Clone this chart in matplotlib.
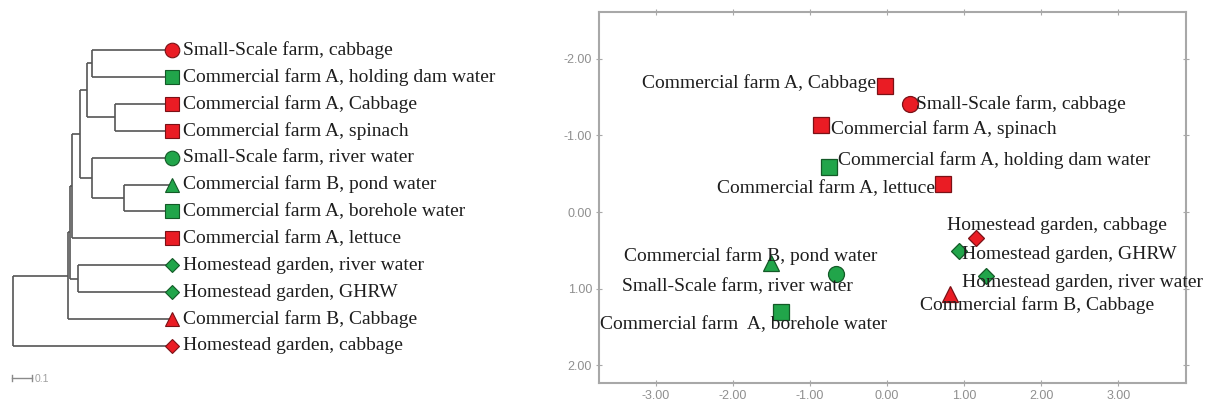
import matplotlib
matplotlib.use("Agg")
import matplotlib.pyplot as plt

plt.rcParams["axes.unicode_minus"] = False

# ---- dendrogram data (leaves listed top to bottom) ----
leaf_labels = [
    "Small-Scale farm, cabbage",
    "Commercial farm A, holding dam water",
    "Commercial farm A, Cabbage",
    "Commercial farm A, spinach",
    "Small-Scale farm, river water",
    "Commercial farm B, pond water",
    "Commercial farm A, borehole water",
    "Commercial farm A, lettuce",
    "Homestead garden, river water",
    "Homestead garden, GHRW",
    "Commercial farm B, Cabbage",
    "Homestead garden, cabbage",
]
leaf_groups = ["red", "green", "red", "red", "green", "green",
               "green", "red", "green", "green", "red", "red"]
leaf_shapes = ["o", "s", "s", "s", "o", "^", "s", "s", "D", "D", "^", "D"]

# merges: ids 0-11 are leaves, each merge creates node 12, 13, ...
merge_a = [0, 2, 12, 5, 4, 14, 17, 8, 18, 20, 21]
merge_b = [1, 3, 13, 6, 15, 16, 7, 9, 19, 10, 11]
merge_h = [0.40, 0.285, 0.425, 0.24, 0.40, 0.46, 0.50, 0.47, 0.51, 0.52, 0.795]

# ---- MDS configuration ----
pt_labels = [
    "Commercial farm A, Cabbage",
    "Small-Scale farm, cabbage",
    "Commercial farm A, spinach",
    "Commercial farm A, holding dam water",
    "Commercial farm A, lettuce",
    "Homestead garden, cabbage",
    "Homestead garden, GHRW",
    "Homestead garden, river water",
    "Commercial farm B, Cabbage",
    "Commercial farm B, pond water",
    "Small-Scale farm, river water",
    "Commercial farm  A, borehole water",
]
dim1 = [-0.03, 0.30, -0.86, -0.75, 0.73, 1.16, 0.93, 1.28, 0.82, -1.51, -0.66, -1.38]
dim2 = [-1.65, -1.41, -1.13, -0.59, -0.37, 0.34, 0.51, 0.83, 1.07, 0.66, 0.81, 1.30]
pt_groups = ["red", "red", "red", "green", "red", "red",
             "green", "green", "red", "green", "green", "green"]
pt_shapes = ["s", "o", "s", "s", "s", "D", "D", "D", "^", "^", "o", "s"]

x_ticks = [-3, -2, -1, 0, 1, 2, 3]
y_ticks = [-2, -1, 0, 1, 2]

FILL = {"red": "#ea1c24", "green": "#21a54a"}
EDGE = {"red": "#7a1116", "green": "#135a27"}
SERIF = "Liberation Serif"
SANS = "Liberation Sans"
LINE = "#555555"
TEXT = "#1e1e1e"

fig = plt.figure(figsize=(12.06, 4.03), dpi=100)

# ---------------- dendrogram ----------------
axd = fig.add_axes([0, 0, 0.5, 1])
axd.set_xlim(0.86, -2.155)
axd.set_ylim(13.12, -1.86)
axd.axis("off")

ypos = {i: float(i) for i in range(len(leaf_labels))}
hpos = {i: 0.0 for i in range(len(leaf_labels))}
for k, (a, b, h) in enumerate(zip(merge_a, merge_b, merge_h)):
    node = len(leaf_labels) + k
    ya, yb = ypos[a], ypos[b]
    axd.plot([h, h], [ya, yb], color=LINE, lw=1.2, solid_capstyle="butt")
    axd.plot([hpos[a], h], [ya, ya], color=LINE, lw=1.2, solid_capstyle="butt")
    axd.plot([hpos[b], h], [yb, yb], color=LINE, lw=1.2, solid_capstyle="butt")
    ypos[node] = (ya + yb) / 2
    hpos[node] = h

for i, (lab, g, m) in enumerate(zip(leaf_labels, leaf_groups, leaf_shapes)):
    size = {"o": 10.5, "s": 10, "^": 10, "D": 7.5}[m]
    axd.plot(0, i, marker=m, ms=size, mfc=FILL[g], mec=EDGE[g], mew=0.8,
             zorder=3, clip_on=False)
    axd.text(-0.055, i, lab, fontsize=14, family=SERIF, color=TEXT,
             va="center", ha="left")

# scale bar
bar_y = 12.19
axd.plot([0.80, 0.70], [bar_y, bar_y], color="#8a8a8a", lw=1.0)
for xb in (0.80, 0.70):
    axd.plot([xb, xb], [bar_y - 0.12, bar_y + 0.12], color="#8a8a8a", lw=1.0)
axd.text(0.685, bar_y + 0.05, "0.1", fontsize=7.5, family=SANS,
         color="#a0a0a0", va="center", ha="left")

# ---------------- MDS scatter ----------------
ax = fig.add_axes([599 / 1206, 20 / 403, 587 / 1206, 371 / 403])
ax.set_xlim(-3.74, 3.88)
ax.set_ylim(2.23, -2.61)
ax.set_xticks(x_ticks)
ax.set_yticks(y_ticks)
ax.set_xticklabels([f"{v:.2f}" for v in x_ticks])
ax.set_yticklabels([f"{v:.2f}" for v in y_ticks])
for s in ax.spines.values():
    s.set_color("#a8a8a8")
    s.set_linewidth(1.5)
ax.tick_params(direction="inout", length=4, width=0.8, color="#a8a8a8",
               labelcolor="#8f8f8f", labelsize=9, top=True, right=True,
               pad=3)
for t in ax.get_xticklabels() + ax.get_yticklabels():
    t.set_family(SANS)

# label placement (pixel offsets from each point, alignment)
label_pos = {
    "Commercial farm A, Cabbage": (-9, 3, "right"),
    "Small-Scale farm, cabbage": (6, 0, "left"),
    "Commercial farm A, spinach": (10, -4, "left"),
    "Commercial farm A, holding dam water": (9, 7, "left"),
    "Commercial farm A, lettuce": (-8, -5, "right"),
    "Homestead garden, cabbage": (-29, 13, "left"),
    "Homestead garden, GHRW": (3, -3, "left"),
    "Homestead garden, river water": (-24, -7, "left"),
    "Commercial farm B, Cabbage": (-30, -11, "left"),
    "Commercial farm B, pond water": (-147, 7, "left"),
    "Small-Scale farm, river water": (-214, -12, "left"),
    "Commercial farm  A, borehole water": (-181, -13, "left"),
}

for lab, x, y, g, m in zip(pt_labels, dim1, dim2, pt_groups, pt_shapes):
    size = {"o": 11.5, "s": 11, "^": 11, "D": 8.5}[m]
    ax.plot(x, y, marker=m, ms=size, mfc=FILL[g], mec=EDGE[g], mew=0.9,
            ls="none", zorder=3)
    dx, dy, ha = label_pos[lab]
    ax.annotate(lab, (x, y), xytext=(dx, dy), textcoords="offset pixels",
                fontsize=14, family=SERIF, color=TEXT,
                ha=ha, va="center", zorder=4, annotation_clip=False)

fig.savefig("out.png", dpi=100)
